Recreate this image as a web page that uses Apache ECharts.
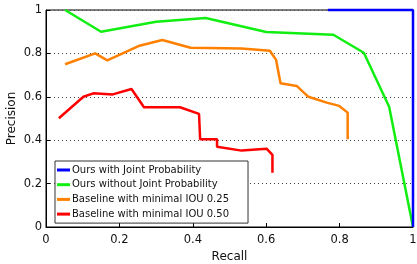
<!DOCTYPE html>
<html><head><meta charset="utf-8">
<script src="https://cdn.jsdelivr.net/npm/echarts@6/dist/echarts.min.js"></script>
<style>html,body{margin:0;padding:0;background:#fff}#c{width:417px;height:264px}</style>
</head><body><div id="c"></div>
<script>
var seriesNames = ["Ours with Joint Probability","Ours without Joint Probability","Baseline with minimal IOU 0.25","Baseline with minimal IOU 0.50"];
var colors = ["#0000ff","#11ee11","#ff8000","#ff0000"];
var oursJoint = [[0.768,1.0],[1.0,1.0],[1.0,0.0]];
var oursNoJoint = [[0.052,1.0],[0.15,0.90],[0.30,0.946],[0.435,0.963],[0.60,0.899],[0.783,0.886],[0.866,0.803],[0.935,0.554],[1.0,0.0]];
var base25 = [[0.052,0.75],[0.134,0.80],[0.167,0.768],[0.252,0.834],[0.317,0.862],[0.394,0.826],[0.533,0.823],[0.610,0.812],[0.627,0.770],[0.639,0.662],[0.683,0.650],[0.715,0.600],[0.765,0.573],[0.799,0.558],[0.822,0.527],[0.822,0.404]];
var base50 = [[0.035,0.501],[0.102,0.600],[0.129,0.616],[0.182,0.611],[0.233,0.636],[0.267,0.552],[0.365,0.552],[0.417,0.521],[0.42,0.404],[0.466,0.404],[0.466,0.37],[0.533,0.352],[0.601,0.361],[0.617,0.332],[0.617,0.25]];
var xTicks = [0,0.2,0.4,0.6,0.8,1];
var yTicks = [0,0.2,0.4,0.6,0.8,1];
var allData = [oursJoint, oursNoJoint, base25, base50];

var chart = echarts.init(document.getElementById('c'));
var font = 'DejaVu Sans';
chart.setOption({
  animation:false,
  textStyle:{fontFamily:font},
  grid:{left:46,right:4,top:10,bottom:37,show:true,borderColor:'#000',borderWidth:1,outerBoundsMode:'none',containLabel:false},
  legend:{
    left:55, top:161, orient:'vertical',
    data:seriesNames, icon:'rect', itemWidth:13, itemHeight:3, itemGap:2.7,
    borderColor:'#333', borderWidth:1, backgroundColor:'#fff',
    padding:[3,19,3,2],
    textStyle:{fontSize:10,lineHeight:12,color:'#111',fontFamily:font,padding:[0,0,0,-3]}
  },
  xAxis:{type:'value',min:0,max:1,interval:0.2,name:'Recall',nameLocation:'middle',nameGap:24,nameMoveOverlap:false,
    nameTextStyle:{fontSize:12,color:'#111',fontFamily:font,verticalAlign:'top'},
    axisLine:{show:true,lineStyle:{color:'#000'}},
    axisTick:{show:true,inside:true,length:4,lineStyle:{color:'#000'}},
    axisLabel:{fontSize:11.5,color:'#111',margin:7,fontFamily:font,formatter:function(v){return xTicks.indexOf(v)>=0?String(v):'';}},
    splitLine:{show:false}},
  yAxis:{type:'value',min:0,max:1,interval:0.2,name:'Precision',nameLocation:'middle',nameGap:28,nameMoveOverlap:false,
    nameTextStyle:{fontSize:12,color:'#111',fontFamily:font},
    axisLine:{show:true,lineStyle:{color:'#000'}},
    axisTick:{show:true,inside:true,length:4,lineStyle:{color:'#000'}},
    axisLabel:{fontSize:11.5,color:'#111',margin:4,fontFamily:font,formatter:function(v){return yTicks.indexOf(v)>=0?String(v):'';}},
    splitLine:{show:true,lineStyle:{type:[1,3],color:'#444',width:1}}},
  series: allData.map(function(d,i){
    return {name:seriesNames[i],type:'line',data:d,showSymbol:false,symbol:'none',clip:false,
      lineStyle:{color:colors[i],width:2.5},itemStyle:{color:colors[i]},z:10-i};
  })
});
</script></body></html>
